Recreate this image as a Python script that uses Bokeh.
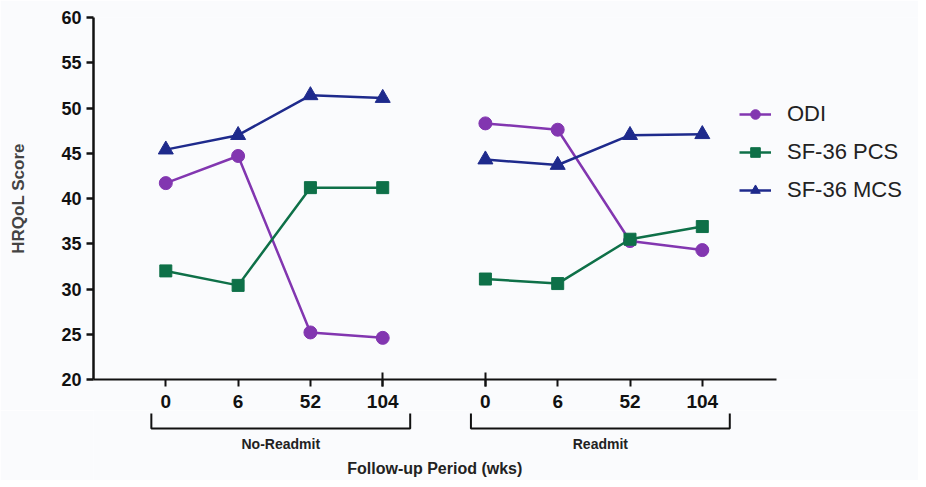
from bokeh.plotting import figure
from bokeh.models import Range1d, FixedTicker, Legend, LegendItem
from bokeh.layouts import column
from bokeh.core.properties import value
from bokeh.embed import file_html
from bokeh.resources import INLINE

# ---- data ----
weeks = ["0", "6", "52", "104"]
groups = ["No-Readmit", "Readmit"]
series = ["ODI", "SF-36 PCS", "SF-36 MCS"]
odi_no = [41.7, 44.7, 25.2, 24.6]
pcs_no = [32.0, 30.4, 41.2, 41.2]
mcs_no = [45.4, 47.0, 51.4, 51.1]
odi_re = [48.3, 47.6, 35.3, 34.3]
pcs_re = [31.1, 30.6, 35.5, 36.9]
mcs_re = [44.3, 43.7, 47.0, 47.1]
y_ticks = [20, 25, 30, 35, 40, 45, 50, 55, 60]

# ---- layout constants ----
GAP = 4.42
BG = "#fafbfd"
FONT = "Liberation Sans"
colors = {"ODI": "#8236B0", "SF-36 PCS": "#0E7048", "SF-36 MCS": "#1E2A8C"}
markers = {"ODI": ("circle", 13), "SF-36 PCS": ("square", 12), "SF-36 MCS": ("triangle", 15)}

xs_no = [float(i) for i in range(len(weeks))]
xs_re = [i + GAP for i in xs_no]
data = {
    "ODI": (odi_no, odi_re),
    "SF-36 PCS": (pcs_no, pcs_re),
    "SF-36 MCS": (mcs_no, mcs_re),
}

X0, X1 = -1.0, 10.41
AX_END = 8.44

p = figure(width=918, height=410, output_backend="svg", toolbar_location=None,
           x_range=Range1d(X0, X1), y_range=Range1d(20, 60),
           min_border_left=93, min_border_right=0, min_border_top=17, min_border_bottom=30,
           background_fill_color=BG, border_fill_color=BG, outline_line_color=None)
p.grid.visible = False

items = []
for s in series:
    c = colors[s]
    mk, sz = markers[s]
    rs = []
    for xs, ys in zip((xs_no, xs_re), data[s]):
        l = p.line(xs, ys, line_color=c, line_width=2.5)
        m = p.scatter(xs, ys, marker=mk, size=sz, fill_color=c, line_color=c)
        rs.append((l, m))
    items.append(LegendItem(label=s, renderers=[rs[0][0], rs[0][1]]))

leg = Legend(items=items, location=(646, 176), background_fill_alpha=0,
             border_line_color=None, padding=0, margin=0, spacing=12,
             glyph_width=32, glyph_height=24, label_standoff=16,
             label_text_font=FONT, label_text_font_size="22px", label_text_color="#222222")
p.add_layout(leg)

# y axis
ya = p.yaxis[0]
ya.ticker = FixedTicker(ticks=y_ticks)
ya.axis_label = "HRQoL Score"
ya.axis_label_text_font = FONT
ya.axis_label_text_font_style = "bold"
ya.axis_label_text_font_size = "17px"
ya.axis_label_standoff = 30
ya.major_label_text_font = FONT
ya.major_label_text_font_style = "bold"
ya.major_label_text_font_size = "18px"
ya.major_label_text_color = "#111111"
ya.major_label_standoff = 5
ya.major_tick_in = 0
ya.major_tick_out = 7
ya.major_tick_line_width = 2.5
ya.minor_tick_line_color = None
ya.axis_line_width = 2.5
ya.axis_line_color = "#111111"
ya.major_tick_line_color = "#111111"

# x axis
xa = p.xaxis[0]
all_x = xs_no + xs_re
xa.ticker = FixedTicker(ticks=all_x, minor_ticks=[xs_no[-1], xs_re[0]])
xa.major_label_overrides = {x: w for x, w in zip(all_x, weeks + weeks)}
xa.bounds = (X0, AX_END)
xa.major_label_text_font = FONT
xa.major_label_text_font_style = "bold"
xa.major_label_text_font_size = "19px"
xa.major_label_text_color = "#111111"
xa.major_label_standoff = 8
xa.major_tick_in = 0
xa.major_tick_out = 7
xa.major_tick_line_width = 2
xa.minor_tick_in = 7
xa.minor_tick_out = 7
xa.minor_tick_line_width = 2
xa.minor_tick_line_color = "#111111"
xa.axis_line_width = 2
xa.axis_line_color = "#111111"
xa.major_tick_line_color = "#111111"

# ---- bottom panel: brackets and labels ----
q = figure(width=918, height=70, output_backend="svg", toolbar_location=None,
           x_range=p.x_range, y_range=Range1d(70, 0),
           x_axis_type=None, y_axis_type=None,
           min_border_left=93, min_border_right=0, min_border_top=0, min_border_bottom=0,
           background_fill_color=BG, border_fill_color=BG, outline_line_color=None)
q.grid.visible = False

bl = []
br = []
for xs in (xs_no, xs_re):
    bl.append(xs[0] - 0.2)
    br.append(xs[-1] + 0.38)
for a, b in zip(bl, br):
    q.line([a, a, b, b], [3, 18, 18, 3], line_color="#111111", line_width=2)
q.text(x=[(a + b) / 2 for a, b in zip(bl, br)], y=[33, 33], text=groups,
       text_font=value(FONT), text_font_style="bold", text_font_size="14px",
       text_align="center", text_baseline="middle", text_color="#222222")
q.text(x=[(X0 + AX_END) / 2], y=[58], text=["Follow-up Period (wks)"],
       text_font=value(FONT), text_font_style="bold", text_font_size="16px",
       text_align="center", text_baseline="middle", text_color="#222222")

layout = column(p, q, spacing=0)
open("out.html", "w").write(file_html(layout, INLINE))
